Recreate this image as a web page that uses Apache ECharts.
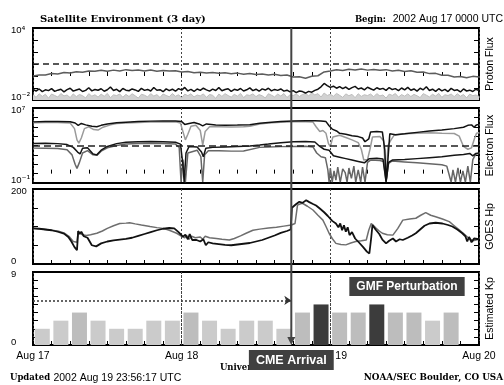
<!DOCTYPE html>
<html>
<head>
<meta charset="utf-8">
<title>Satellite Environment (3 day)</title>
<script src="https://cdn.jsdelivr.net/npm/echarts@6/dist/echarts.min.js"></script>
<style>
  html, body { margin: 0; padding: 0; background: #fff; }
  #main { width: 504px; height: 385px; }
</style>
</head>
<body>
<div id="main"></div>
<script>
// x is hours since 2002 Aug 17 0000 UTC
var cmeHour = 41.7;
var dayTicks = { 0: 'Aug 17', 24: 'Aug 18', 48: 'Aug 19', 72: 'Aug 20' };
var dayLines = [24, 48];

// proton flux, log10(pfu)
// upper gray curve, hourly
var protonGray = [0.00,0.09,0.08,0.20,0.17,0.29,0.25,0.36,0.31,0.42,0.40,0.48,0.39,0.49,0.41,0.53,0.46,0.50,0.42,0.50,
  0.40,0.46,0.41,0.43,0.33,0.37,0.27,0.32,0.25,0.30,0.22,0.27,0.19,0.24,0.15,0.21,0.12,0.16,0.08,0.14,
  0.05,0.09,-0.08,-0.06,-0.18,-0.02,0.02,0.34,0.42,0.52,0.46,0.56,0.50,0.59,0.49,0.55,0.47,0.53,0.42,0.47,
  0.38,0.43,0.32,0.34,0.20,0.22,0.06,0.06,-0.08,-0.04,-0.15,-0.03,-0.09];
// black curve, every half hour
var protonBlack = [-1.12,-1.25,-1.08,-1.30,-1.15,-1.22,-1.05,-1.28,-1.18,-1.10,-1.32,
  -1.14,-1.02,-1.26,-1.17,-1.09,-1.29,-1.20,-0.98,-1.24,-1.13,-1.19,
  -1.06,-1.27,-1.15,-0.92,-1.21,-1.11,-1.30,-1.04,-1.18,-1.23,-1.08,
  -1.16,-1.28,-1.03,-1.20,-1.12,-1.25,-0.96,-1.19,-1.14,-1.31,-1.07,
  -1.22,-1.10,-1.27,-1.05,-1.18,-0.95,-1.24,-1.12,-1.29,-1.08,-1.20,
  -1.02,-1.16,-1.26,-1.09,-1.21,-0.97,-1.23,-1.13,-1.06,-1.28,-1.11,
  -1.19,-1.04,-1.25,-1.15,-0.99,-1.22,-1.10,-1.27,-1.07,-1.17,-1.02,
  -1.24,-1.12,-1.20,-1.08,-1.26,-1.18,-1.32,-1.22,-1.38,-1.25,-1.30,
  -1.42,-1.28,-1.35,-1.20,-1.10,-0.90,-0.62,-0.80,-0.95,-0.85,-1.02,
  -0.88,-1.05,-0.92,-1.12,-0.97,-0.86,-1.08,-1.00,-1.15,-0.94,-1.06,
  -1.18,-0.98,-1.10,-1.03,-1.20,-0.96,-1.13,-1.05,-1.22,-1.00,-1.16,
  -0.95,-1.19,-1.08,-1.26,-1.02,-1.15,-0.90,-1.21,-1.10,-1.28,-1.06,
  -1.24,-1.12,-1.30,-1.03,-1.20,-1.15,-1.33,-1.08,-1.25,-1.18,-1.29,
  -1.10,-1.22];
// light gray curve near the floor, every half hour
var protonLight = [-1.55,-1.78,-1.48,-1.70,-1.52,-1.85,-1.50,-1.62,-1.75,-1.46,-1.66,
  -1.58,-1.80,-1.49,-1.72,-1.54,-1.64,-1.83,-1.47,-1.68,-1.56,-1.76,
  -1.51,-1.69,-1.45,-1.81,-1.57,-1.63,-1.50,-1.77,-1.53,-1.71,-1.48,
  -1.65,-1.84,-1.52,-1.60,-1.74,-1.47,-1.67,-1.55,-1.79,-1.50,-1.62,
  -1.73,-1.46,-1.69,-1.56,-1.82,-1.51,-1.64,-1.48,-1.75,-1.58,-1.66,
  -1.49,-1.78,-1.54,-1.61,-1.86,-1.50,-1.70,-1.47,-1.63,-1.76,-1.53,
  -1.68,-1.45,-1.80,-1.57,-1.62,-1.49,-1.72,-1.55,-1.65,-1.83,-1.48,
  -1.60,-1.74,-1.51,-1.67,-1.46,-1.79,-1.56,-1.63,-1.50,-1.71,-1.54,
  -1.44,-1.66,-1.40,-1.58,-1.47,-1.75,-1.42,-1.62,-1.52,-1.69,-1.45,
  -1.61,-1.78,-1.49,-1.64,-1.53,-1.81,-1.48,-1.70,-1.56,-1.63,-1.50,
  -1.73,-1.47,-1.66,-1.58,-1.84,-1.51,-1.62,-1.46,-1.76,-1.55,-1.68,
  -1.49,-1.71,-1.53,-1.65,-1.80,-1.47,-1.60,-1.74,-1.52,-1.67,-1.45,
  -1.78,-1.56,-1.63,-1.50,-1.72,-1.48,-1.69,-1.54,-1.82,-1.51,-1.64,
  -1.58,-1.70];
var protonLimit = 1;   // 10 pfu

// electron flux, log10, [hour, value]
var elecBlackHi = [[0,5.52],[2,5.55],[4,5.56],[6,5.54],[6.8,5.40],[7.3,5.15],[7.8,5.35],[8.5,5.20],[9.5,5.05],[10.3,5.00],
  [11,5.15],[12,5.30],[13.5,5.42],[15,5.48],[17,5.55],[19,5.60],[21,5.62],[23,5.62],[24,5.55],[24.5,5.25],[25.2,5.35],
  [26,5.45],[26.8,5.30],[27.4,5.10],[28,5.30],[29.5,5.18],[31,5.15],[33,5.18],[35,5.22],[36.6,5.37],[38,5.45],[40,5.55],
  [42,5.62],[44,5.65],[45.5,5.64],[46.5,5.62],[47.3,5.55],[47.8,5.10],[48.3,4.75],[49,4.55],[49.5,4.30],[50.5,4.20],
  [51.5,4.05],[52.5,3.95],[53.2,3.80],[53.6,3.40],[53.9,3.25],[54.2,3.70],[54.5,4.45],[55.5,4.50],[56.4,4.45],[56.8,2.5],
  [57.0,-0.85],[57.3,1.5],[57.6,4.25],[58.5,4.15],[60,4.25],[62,4.40],[64,4.55],[66,4.65],[68,4.80],[69.5,4.95],
  [70.2,5.15],[70.8,5.20],[71.2,4.95],[71.6,5.20],[72,5.25]];
var elecGrayHi = [[0,5.42],[2,5.45],[4,5.46],[6,5.40],[6.7,4.80],[7.1,3.60],[7.4,3.25],[7.8,3.80],[8.3,4.80],[9,5.00],
  [9.8,4.70],[10.5,4.65],[11.3,4.95],[12.5,5.20],[13.5,5.35],[15,5.40],[17,5.45],[19,5.50],[21,5.52],[23,5.52],[23.8,5.40],
  [24.2,4.50],[24.6,3.60],[25.0,4.20],[25.5,5.05],[26.3,5.15],[27.0,4.60],[27.4,3.05],[27.8,4.50],[28.5,5.00],[30,5.00],
  [32,4.98],[34,5.00],[35,5.05],[36.6,5.30],[38,5.40],[40,5.48],[42,5.52],[44,5.54],[45.2,5.50],[45.7,5.00],[46.3,4.50],
  [46.8,4.60],[47.3,4.30],[47.7,3.20],[48.0,2.87],[48.4,3.90],[49.5,4.10],[50.5,3.85],[51.5,3.60],[52.5,3.30],[53.0,2.60],
  [53.4,1.45],[54.0,1.50],[54.4,2.60],[54.8,3.90],[56.0,3.95],[56.6,3.50],[57.0,-0.85],[57.3,3.00],[57.8,3.60],[58.3,4.10],
  [60,4.25],[62,4.30],[64,4.35],[66,4.30],[68,4.28],[68.8,4.00],[69.5,2.90],[70.2,2.60],[70.8,2.75],[71.3,3.80],[71.6,4.30],
  [72,4.35]];
var elecBlackLo = [[0,3.22],[2,3.25],[4,3.20],[5.5,3.10],[6.5,2.80],[7.2,2.30],[7.6,2.10],[8,2.70],[8.8,2.75],[9.7,2.10],
  [10.3,2.00],[11,2.50],[12,2.90],[13.5,3.20],[15,3.35],[17,3.40],[19,3.42],[21,3.40],[23,3.35],[23.8,3.15],[24.2,1.00],
  [24.4,-0.90],[24.7,2.20],[25.2,2.90],[26.5,2.85],[27.2,2.30],[27.5,1.80],[27.9,2.70],[29,2.80],[31,2.85],[33,2.90],
  [35,2.95],[36.6,3.05],[38,3.15],[40,3.30],[42,3.40],[44,3.42],[45.5,3.38],[46.3,2.90],[47.0,2.60],[47.8,2.50],[48.5,1.90],
  [49.5,1.75],[50.5,1.60],[51.5,1.45],[52.5,1.30],[53.5,1.15],[54.3,1.60],[55.5,1.65],[56.5,1.55],[57.0,-0.85],[57.4,1.20],
  [58,1.45],[60,1.50],[62,1.60],[64,1.70],[66,1.80],[68,1.95],[69.5,2.05],[70.5,2.15],[71,1.90],[71.5,2.15],[72,2.20]];
var elecGrayLo = [[0,2.72],[2,2.70],[4,2.68],[5.5,2.55],[6.3,2.00],[6.8,1.00],[7.1,0.56],[7.5,1.20],[8,2.20],[8.8,2.45],
  [9.7,2.00],[10.3,1.95],[11,2.40],[12,2.75],[13.5,3.00],[15,3.15],[17,3.22],[19,3.25],[21,3.22],[23,3.15],[23.6,2.80],
  [23.9,-0.90],[24.2,1.50],[24.6,-0.90],[25,2.20],[26.5,2.50],[27.1,1.80],[27.4,-0.90],[27.7,2.00],[28.3,2.45],[30,2.45],
  [32,2.40],[34,2.42],[36.6,2.80],[38,2.85],[40,2.88],[42,2.90],[44,2.92],[45.2,2.85],[45.8,2.20],[46.5,1.80],[47.2,1.70],
  [47.6,0.40],[47.8,-0.90],[48.0,0.60],[48.3,-0.90],[48.6,0.30],[48.9,-0.70],[49.2,0.70],[49.6,-0.90],[50.0,0.50],
  [50.4,0.10],[50.7,-0.90],[51.0,0.60],[51.4,-0.50],[51.8,0.80],[52.1,-0.90],[52.5,0.40],[52.9,-0.90],[53.2,0.70],
  [53.6,-0.90],[54.0,1.20],[54.5,1.45],[56,1.40],[56.6,1.30],[57.0,-0.85],[57.4,1.10],[58,1.35],[60,1.25],[62,1.15],
  [64,1.05],[66,0.95],[66.8,0.80],[67.5,-0.90],[67.8,0.40],[68.2,-0.90],[68.6,0.60],[69.0,-0.90],[69.4,0.30],[69.8,-0.90],
  [70.2,0.80],[70.6,-0.90],[71.0,1.50],[71.5,2.10],[72,2.15]];
var electronLimit = 3;   // 10^3

// GOES Hp, nT, [hour, value]
var hpBlack = [[0,95],[1,94],[2,92],[3,90],[4,86],[5,81],[5.7,72],[6.2,60],[6.7,45],[7.1,37],[7.3,88],[7.5,80],[7.8,86],
  [8.2,74],[8.8,70],[9.5,50],[10.2,47],[11,55],[12,60],[13,63],[14,65],[15,67],[16,70],[17,75],[18,80],[19,85],[20,90],
  [21,94],[22,96],[22.8,95],[23.5,85],[24.2,73],[24.6,78],[25,66],[25.3,80],[25.7,64],[26.4,64],[27,60],[27.5,66],
  [27.9,50],[28.3,58],[29,55],[30,53],[31,51],[32,50],[33,52],[34,54],[35,56],[36,60],[37,64],[38,70],[39,76],[40,83],
  [41,88],[41.6,92],[41.8,150],[42.5,160],[43,166],[43.5,163],[44.1,170],[44.6,165],[45.2,160],[45.7,156],[46.3,148],
  [47,138],[47.6,128],[48.3,115],[48.9,108],[49.3,98],[49.6,108],[49.9,90],[50.2,103],[50.5,86],[50.8,98],[51.1,77],
  [51.5,85],[52,68],[52.7,56],[53.3,45],[53.9,33],[54.3,28],[54.6,70],[54.8,104],[55.3,92],[55.9,80],[56.4,65],[57,55],
  [57.5,62],[58.1,68],[58.6,60],[59.2,66],[59.7,64],[60.5,70],[61.2,76],[61.8,82],[62.5,92],[63.2,102],[64,108],[65,110],
  [66.1,108],[67,104],[67.7,100],[68.5,92],[69.3,82],[69.8,74],[70.1,60],[70.4,72],[70.8,58],[71.2,68],[71.5,64],[72,66]];
var hpGray = [[0,95],[1,94],[2,92],[3,90],[4,88],[5,83],[5.8,74],[6.5,60],[6.8,55],[7.1,58],[7.3,88],[7.6,82],[8,78],
  [8.6,76],[9.3,78],[10.3,82],[11.2,88],[12,95],[13,102],[14,108],[15,109],[15.6,110],[16.5,107],[17.5,104],[18.9,100],
  [20,97],[21,95],[22,90],[23.2,82],[24,74],[24.5,70],[24.8,76],[25.2,66],[25.6,74],[26.2,70],[27,72],[27.4,66],[27.8,74],
  [28.5,70],[29.6,68],[30.5,66],[31.7,64],[32.5,68],[33.5,75],[34.4,82],[35.5,90],[36.6,93],[38,96],[39.3,98],[40.5,101],
  [41.7,104],[42.3,108],[42.7,157],[43.1,160],[43.5,162],[44.3,154],[45.2,144],[46,130],[46.8,117],[47.3,100],[47.8,82],
  [48.3,68],[48.9,55],[49.7,52],[50.5,51],[51.3,56],[52.1,60],[53,62],[53.8,64],[54.2,90],[54.6,108],[55,102],[55.4,95],
  [55.9,88],[56.4,82],[57.2,78],[58.1,77],[58.9,95],[59.7,117],[60.8,120],[61.8,122],[62.6,130],[63.4,137],[64.2,130],
  [65,126],[66.1,120],[67.2,113],[68,102],[68.8,91],[69.6,80],[70.4,68],[71,62],[71.5,64],[72,66]];

// estimated Kp, 3 hour bins (last bin not yet available)
var kpHours = [1.5,4.5,7.5,10.5,13.5,16.5,19.5,22.5,25.5,28.5,31.5,34.5,37.5,40.5,43.5,46.5,49.5,52.5,55.5,58.5,61.5,64.5,67.5];
var kpValues = [2,3,4,3,2,2,3,3,4,3,2,3,3,2,4,5,4,4,5,4,4,3,4];
var kpStormLevel = 5.5;

// evenly spaced lists -> [hour, value]
function toPairs(vals, step) {
  var out = [];
  for (var i = 0; i < vals.length; i++) {
    out.push([i * step, vals[i]]);
  }
  return out;
}

var sansFont = 'Liberation Sans';
var slabFont = 'DejaVu Serif';
var supers = { '-': '\u207B', '1': '\u00B9', '2': '\u00B2', '4': '\u2074', '7': '\u2077' };
function sup(n) {
  return String(n).split('').map(function (c) { return supers[c]; }).join('');
}

// y labels only at the ends of each axis, nudged inside the panel
var labelRich = {
  t: { fontFamily: sansFont, fontSize: 9.5, lineHeight: 11, padding: [5, 0, 0, 0], color: '#000' },
  ts: { fontFamily: 'DejaVu Sans', fontSize: 9.5, lineHeight: 11, padding: [5, 0, 0, 0], color: '#000' },
  b: { fontFamily: sansFont, fontSize: 9.5, lineHeight: 11, padding: [0, 0, 6, 0], color: '#000' },
  bs: { fontFamily: 'DejaVu Sans', fontSize: 9.5, lineHeight: 11, padding: [0, 0, 6, 0], color: '#000' }
};
function endLabels(min, max, log) {
  return function (v) {
    if (v === max) return log ? '{t|10}{ts|' + sup(max) + '}' : '{t|' + max + '}';
    if (v === min) return log ? '{b|10}{bs|' + sup(min) + '}' : '{b|' + min + '}';
    return '';
  };
}

var panels = [
  { top: 28, height: 72, min: -2, max: 4, interval: 1, log: true, name: 'Proton Flux' },
  { top: 108, height: 75, min: -1, max: 7, interval: 1, log: true, name: 'Electron Flux' },
  { top: 189, height: 75, min: 0, max: 200, interval: 50, log: false, name: 'GOES Hp' },
  { top: 272, height: 73, min: 0, max: 9, interval: 1, log: false, name: 'Estimated Kp' }
];

var grids = [], xAxes = [], yAxes = [];
panels.forEach(function (p, i) {
  grids.push({ left: 33, right: 24, top: p.top, height: p.height, show: true, borderColor: '#000', borderWidth: 2, backgroundColor: '#fff' });
  xAxes.push({
    type: 'value', gridIndex: i, min: 0, max: 72, interval: 24,
    axisLine: { show: false },
    axisTick: { show: true, inside: true, length: 4, lineStyle: { color: '#000' } },
    minorTick: { show: true, splitNumber: 8, length: 4, lineStyle: { color: '#000', width: 1 } },
    splitLine: { show: true, lineStyle: { color: '#444', width: 1, type: [2, 2] } },
    axisLabel: {
      show: i === 3, margin: 6, color: '#000', fontFamily: sansFont, fontSize: 10.5,
      formatter: function (v) { return dayTicks[v] || ''; }
    },
    name: i === 3 ? 'Universal Time' : '',
    nameLocation: 'middle', nameGap: 18,
    nameTextStyle: { fontFamily: slabFont, fontWeight: 'bold', fontSize: 8.5, color: '#000' }
  });
  yAxes.push({
    type: 'value', gridIndex: i, min: p.min, max: p.max, interval: p.interval, position: 'left',
    axisLine: { show: false },
    axisTick: { show: true, inside: true, length: 5, lineStyle: { color: '#000' } },
    splitLine: { show: false },
    axisLabel: { margin: 22, align: 'left', rich: labelRich, formatter: endLabels(p.min, p.max, p.log) }
  });
});
// right side axes: ticks and the panel names
panels.forEach(function (p, i) {
  yAxes.push({
    type: 'value', gridIndex: i, min: p.min, max: p.max, interval: p.interval, position: 'right',
    axisLine: { show: false },
    axisTick: { show: true, inside: true, length: 5, lineStyle: { color: '#000' } },
    splitLine: { show: false },
    axisLabel: { show: false },
    name: p.name, nameLocation: 'middle', nameRotate: 90, nameGap: 6,
    nameTextStyle: { fontFamily: sansFont, fontSize: 10.5, color: '#000' }
  });
});

function line(name, grid, data, color, width, z) {
  return {
    name: name, type: 'line', xAxisIndex: grid, yAxisIndex: grid, data: data,
    showSymbol: false, symbol: 'none', silent: true, z: z || 2,
    lineStyle: { color: color, width: width }
  };
}

var protonLightSeries = line('proton light', 0, toPairs(protonLight, 0.5), '#bdbdbd', 1, 1);
protonLightSeries.areaStyle = { color: '#d2d2d2', opacity: 1, origin: 'start' };

var protonGraySeries = line('proton gray', 0, toPairs(protonGray, 1), '#5c5c5c', 1.5, 3);
protonGraySeries.markLine = {
  silent: true, symbol: 'none', label: { show: false },
  lineStyle: { color: '#222', width: 1.5, type: [6, 4] },
  data: [{ yAxis: protonLimit }]
};

var elecGrayHiSeries = line('electron gray hi', 1, elecGrayHi, '#9a9a9a', 1.5, 2);
elecGrayHiSeries.markLine = {
  silent: true, symbol: 'none', label: { show: false },
  lineStyle: { color: '#222', width: 1.5, type: [7, 4] },
  data: [{ yAxis: electronLimit }]
};

var kpSeries = {
  name: 'Kp', type: 'bar', xAxisIndex: 3, yAxisIndex: 3, barWidth: 15, silent: true,
  data: kpHours.map(function (h, i) { return [h, kpValues[i]]; }),
  itemStyle: {
    color: function (p) {
      var v = p.value[1];
      if (v >= 5) return '#3c3c3c';
      if (v === 4) return '#bdbdbd';
      return '#cbcbcb';
    }
  },
  markLine: {
    silent: true, symbol: ['none', 'arrow'], symbolSize: 7, label: { show: false },
    lineStyle: { color: '#333', width: 1.5, type: [2, 2] },
    data: [[{ coord: [0, kpStormLevel] }, { coord: [cmeHour, kpStormLevel] }]]
  }
};
// day lines stay visible on top of the bars
var kpDaySeries = {
  name: 'days', type: 'line', xAxisIndex: 3, yAxisIndex: 3, data: [], silent: true, z: 5,
  markLine: {
    silent: true, symbol: 'none', label: { show: false },
    lineStyle: { color: '#444', width: 1, type: [2, 2] },
    data: dayLines.map(function (d) { return { xAxis: d }; })
  }
};

var chart = echarts.init(document.getElementById('main'));
chart.setOption({
  animation: false,
  backgroundColor: '#fff',
  textStyle: { fontFamily: sansFont },
  grid: grids,
  xAxis: xAxes,
  yAxis: yAxes,
  series: [
    protonLightSeries,
    line('proton black', 0, toPairs(protonBlack, 0.5), '#111', 1.5, 2),
    protonGraySeries,
    line('electron gray lo', 1, elecGrayLo, '#666', 1.5, 2),
    elecGrayHiSeries,
    line('electron black lo', 1, elecBlackLo, '#151515', 1.5, 3),
    line('electron black hi', 1, elecBlackHi, '#111', 1.5, 3),
    line('hp gray', 2, hpGray, '#6e6e6e', 1.5, 2),
    line('hp black', 2, hpBlack, '#111', 1.8, 3),
    kpSeries,
    kpDaySeries
  ]
});

// CME marker through all panels, placed with the chart's own scales
var cmeX = chart.convertToPixel({ xAxisIndex: 0 }, cmeHour);
var topY = chart.convertToPixel({ yAxisIndex: 0 }, 4);
var botY = chart.convertToPixel({ yAxisIndex: 3 }, 0);

chart.setOption({
  graphic: [
    { type: 'text', x: 40, y: 19, z: 100, style: { text: 'Satellite Environment (3 day)', fontFamily: slabFont, fontWeight: 'bold', fontSize: 10, fill: '#000', verticalAlign: 'middle' } },
    { type: 'text', x: 503, y: 19.5, z: 100, style: {
      text: '{b|Begin:}  {n|2002 Aug 17 0000 UTC}', align: 'right', verticalAlign: 'middle',
      rich: { b: { fontFamily: slabFont, fontWeight: 'bold', fontSize: 8.5, fill: '#000' }, n: { fontFamily: sansFont, fontSize: 10.5, fill: '#000' } }
    } },
    { type: 'text', x: 10, y: 378, z: 100, style: {
      text: '{b|Updated} {n|2002 Aug 19 23:56:17 UTC}', verticalAlign: 'middle',
      rich: { b: { fontFamily: slabFont, fontWeight: 'bold', fontSize: 8.5, fill: '#000' }, n: { fontFamily: sansFont, fontSize: 10.5, fill: '#000' } }
    } },
    { type: 'text', x: 503, y: 378, z: 100, style: { text: 'NOAA/SEC Boulder, CO USA', align: 'right', verticalAlign: 'middle', fontFamily: slabFont, fontWeight: 'bold', fontSize: 8.8, fill: '#000' } },
    { type: 'line', z: 100, shape: { x1: cmeX, y1: topY, x2: cmeX, y2: botY - 6 }, style: { stroke: '#444', lineWidth: 2 } },
    { type: 'polygon', z: 100, shape: { points: [[cmeX - 4, botY - 8], [cmeX + 4, botY - 8], [cmeX, botY]] }, style: { fill: '#444' } },
    { type: 'text', x: cmeX, y: 350, z: 101, style: {
      text: 'CME Arrival', align: 'center', verticalAlign: 'top', fontFamily: sansFont, fontWeight: 'bold', fontSize: 12.5,
      fill: '#fff', backgroundColor: '#404040', padding: [4, 7, 3, 7]
    } },
    { type: 'text', x: 407, y: 277, z: 101, style: {
      text: 'GMF Perturbation', align: 'center', verticalAlign: 'top', fontFamily: sansFont, fontWeight: 'bold', fontSize: 12,
      fill: '#fff', backgroundColor: '#404040', padding: [4, 7, 3, 7]
    } }
  ]
});
</script>
</body>
</html>
